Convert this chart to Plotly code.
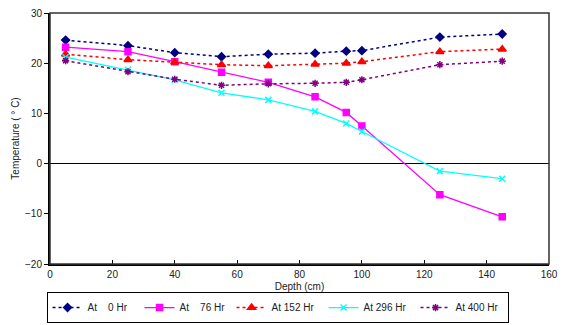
import plotly.graph_objects as go

depth = [5, 25, 40, 55, 70, 85, 95, 100, 125, 145]
t0 = [24.6, 23.5, 22.1, 21.3, 21.8, 22.0, 22.4, 22.5, 25.2, 25.8]
t76 = [23.2, 22.3, 20.3, 18.2, 16.2, 13.3, 10.2, 7.5, -6.2, -10.6]
t152 = [21.8, 20.7, 20.2, 19.7, 19.5, 19.8, 20.0, 20.3, 22.3, 22.8]
t296 = [21.2, 18.7, 16.7, 14.1, 12.7, 10.4, 8.0, 6.4, -1.5, -3.0]
t400 = [20.5, 18.3, 16.8, 15.6, 15.9, 16.0, 16.2, 16.7, 19.7, 20.4]

names = ["At\u00a0\u00a0\u00a0\u00a00 Hr", "At\u00a0\u00a0\u00a0\u00a076 Hr", "At 152 Hr", "At 296 Hr", "At 400 Hr"]
series = [t0, t76, t152, t296, t400]
colors = ["#000080", "#FF00FF", "#FF0000", "#00FFFF", "#800080"]
dashes = ["dot", "solid", "dot", "solid", "dot"]
symbols = ["diamond", "square", "triangle-up", "x-thin-open", "asterisk-open"]
sizes = [6, 6, 7, 6, 6]

fig = go.Figure()
for name, ys, c, d, s, sz in zip(names, series, colors, dashes, symbols, sizes):
    fig.add_trace(go.Scatter(
        x=depth, y=ys, name=name, mode="lines+markers",
        line=dict(color=c, dash=d, width=1.5 if d == "dot" else 1.3),
        marker=dict(symbol=s, size=sz, color=c, line=dict(color=c, width=1.5)),
    ))

fig.update_layout(
    width=563, height=325,
    margin=dict(l=50, r=14, t=13, b=61, autoexpand=False),
    paper_bgcolor="white", plot_bgcolor="white",
    font=dict(family="Liberation Sans, Arial, sans-serif", size=10, color="#222"),
    showlegend=True,
    legend=dict(
        orientation="h", x=0.456, xanchor="center",
        yref="container", y=0.006, yanchor="bottom",
        bordercolor="black", borderwidth=1, bgcolor="white",
        font=dict(size=10), entrywidth=47, entrywidthmode="pixels",
        itemwidth=30, tracegroupgap=0,
    ),
    shapes=[dict(type="rect", xref="paper", yref="paper", x0=0, y0=0, x1=1, y1=1,
                 line=dict(color="#333", width=1.5), layer="above")],
)
fig.update_xaxes(
    range=[0, 160], dtick=20, tick0=0, showgrid=False, zeroline=False,
    showline=True, linecolor="black", linewidth=2,
    ticks="inside", ticklen=4, tickcolor="black",
    title=dict(text="Depth (cm)", font=dict(size=10), standoff=6),
)
fig.update_yaxes(
    range=[-20, 30], dtick=10, tick0=0, showgrid=False,
    zeroline=True, zerolinecolor="black", zerolinewidth=1,
    showline=True, linecolor="black", linewidth=2,
    ticks="outside", ticklen=4, tickcolor="black",
    title=dict(text="Temperature ( \u00b0 C)", font=dict(size=10), standoff=4),
)
fig.write_html("out.html", config={"displayModeBar": False},
               post_script="document.body.style.margin='0px';document.body.style.overflow='hidden';")
